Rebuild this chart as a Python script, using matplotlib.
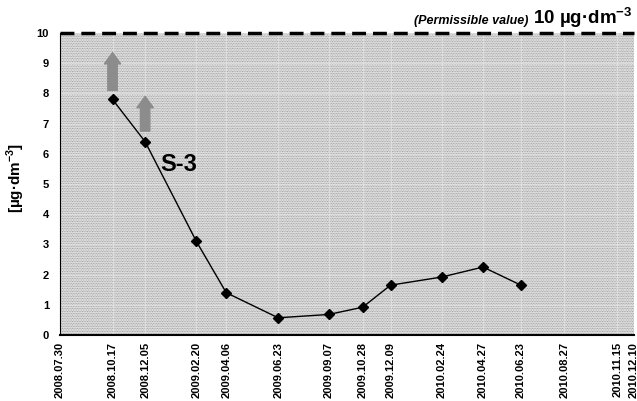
import matplotlib
matplotlib.use("Agg")
import matplotlib.pyplot as plt
from matplotlib.patches import Rectangle
import pandas as pd

plt.rcParams["font.family"] = ["Liberation Sans", "DejaVu Sans"]
plt.rcParams["mathtext.fontset"] = "custom"
plt.rcParams["mathtext.bf"] = "Liberation Sans:bold"
plt.rcParams["mathtext.rm"] = "Liberation Sans:bold"
plt.rcParams["hatch.linewidth"] = 0.6

# dane
tick_dates = ["2008.07.30", "2008.10.17", "2008.12.05", "2009.02.20", "2009.04.06",
              "2009.06.23", "2009.09.07", "2009.10.28", "2009.12.09", "2010.02.24",
              "2010.04.27", "2010.06.23", "2010.08.27", "2010.11.15", "2010.12.10"]
meas_dates = ["2008.10.17", "2008.12.05", "2009.02.20", "2009.04.06", "2009.06.23",
              "2009.09.07", "2009.10.28", "2009.12.09", "2010.02.24", "2010.04.27",
              "2010.06.23"]
values = [7.8, 6.4, 3.1, 1.4, 0.57, 0.68, 0.92, 1.65, 1.92, 2.25, 1.65]
limit = 10
arrow_dates = ["2008.10.17", "2008.12.05"]
arrow_from = [8.1, 6.75]
arrow_to = [9.35, 7.9]

ticks = pd.to_datetime(tick_dates, format="%Y.%m.%d")
x = pd.to_datetime(meas_dates, format="%Y.%m.%d")
ax_x = pd.to_datetime(arrow_dates, format="%Y.%m.%d")

fig = plt.figure(figsize=(6.37, 4.01), dpi=100)
ax = fig.add_axes([60 / 637, 66 / 401, 574 / 637, 302 / 401])

ax.set_xlim(ticks[0], ticks[-1])
ax.set_ylim(0, 10)

# kropkowane tlo
ax.add_patch(Rectangle((0, 0), 1, 1, transform=ax.transAxes, facecolor="#eeeeee",
                       edgecolor="#8e8e8e", linewidth=0, hatch="." * 10, zorder=0))
ax.grid(True, color="#e4e4e4", linewidth=0.8, alpha=0.7)
for gl in ax.get_xgridlines() + ax.get_ygridlines():
    gl.set_zorder(1)

ax.plot(x, values, color="black", linewidth=1, marker="D", markersize=5, zorder=3)
ax.axhline(limit, color="black", linewidth=2.5, linestyle=(0, (4, 2)), zorder=4, clip_on=False)

for xd, y0, y1 in zip(ax_x, arrow_from, arrow_to):
    ax.annotate("", xy=(xd, y1), xytext=(xd, y0),
                arrowprops=dict(arrowstyle="simple,head_width=1.3,head_length=0.9,tail_width=0.75",
                                color="#8c8c8c", mutation_scale=9, shrinkA=0, shrinkB=0),
                zorder=3)

ax.text(ticks[2] + pd.Timedelta(days=22), 5.65, "S-3", fontsize=17, fontweight="bold", va="center")

ax.set_xticks(ticks)
ax.set_xticklabels(tick_dates, rotation=90, fontsize=8, fontweight="bold")
ax.set_yticks(range(0, 11))
ax.tick_params(axis="y", labelsize=8, length=0, pad=8)
ax.tick_params(axis="x", length=0, pad=5)
for lab in ax.get_yticklabels():
    lab.set_fontweight("bold")

for s in ["top", "right"]:
    ax.spines[s].set_visible(False)
ax.spines["bottom"].set_linewidth(1.5)
ax.spines["left"].set_linewidth(0.8)

ax.set_ylabel("[µg·dm$^{\\mathbf{-3}}$]", fontsize=11, fontweight="bold")
ax.yaxis.set_label_coords(-0.057, 0.52)

fig.text(632 / 637, 1 - 24 / 401, "10 µg·dm$^{\\mathbf{-3}}$", fontsize=13.5, fontweight="bold",
         ha="right", va="baseline")
fig.text(528 / 637, 1 - 24 / 401, "(Permissible value)", fontsize=9, fontweight="bold",
         style="italic", ha="right", va="baseline")

fig.savefig("out.png", dpi=100)
